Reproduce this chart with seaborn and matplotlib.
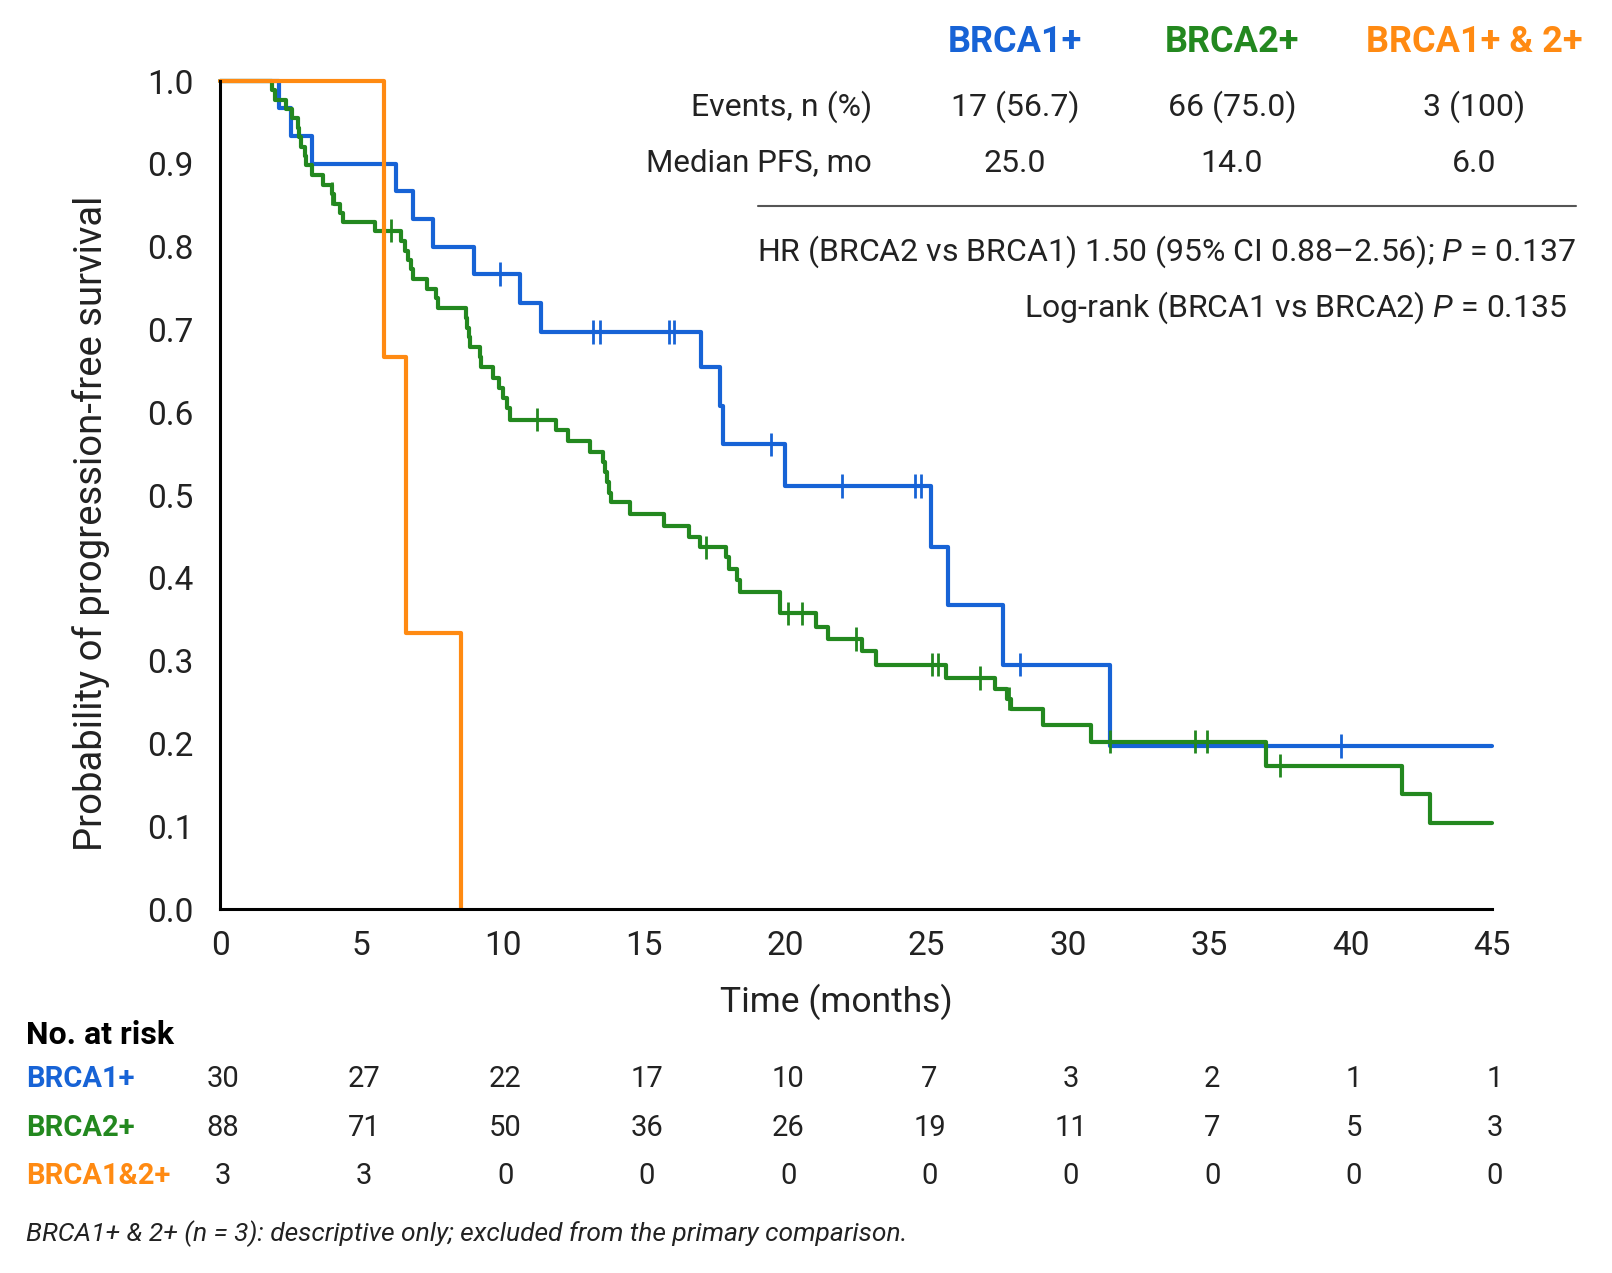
import numpy as np
import pandas as pd
import matplotlib
matplotlib.use("Agg")
import matplotlib.pyplot as plt
import matplotlib.transforms as mtransforms
from matplotlib import font_manager
import seaborn as sns

# ---------------- data ----------------
blue_t = [0, 2.1, 2.5, 3.26, 6.23, 6.83, 7.55, 9.0, 10.6, 11.37, 17.0, 17.7, 17.8,
          20.0, 25.15, 25.75, 27.7, 31.5, 45.0]
blue_s = [1.0, 0.967, 0.933, 0.900, 0.867, 0.833, 0.800, 0.767, 0.732, 0.697, 0.654,
          0.608, 0.561, 0.511, 0.437, 0.367, 0.295, 0.197, 0.197]
blue_cens = [9.9, 13.2, 13.45, 15.9, 16.05, 19.5, 22.0, 24.6, 24.8, 28.3, 39.65]

green_t = [0, 1.85, 1.95, 2.35, 2.55, 2.75, 2.80, 2.85, 3.00, 3.05, 3.25, 3.65, 3.95,
           4.05, 4.25, 4.35, 5.48, 6.40, 6.55, 6.65, 6.75, 6.84, 7.31, 7.65, 7.72,
           8.70, 8.75, 8.80, 8.85, 9.20, 9.25, 9.67, 9.88, 10.02, 10.14, 10.26, 11.90,
           12.30, 13.10, 13.56, 13.62, 13.68, 13.75, 13.85, 14.50, 15.70, 16.60, 16.98,
           17.90, 18.00, 18.28, 18.39, 19.80, 21.10, 21.50, 22.70, 23.20, 25.70, 27.40,
           27.85, 28.00, 29.10, 30.80, 37.00, 41.80, 42.80, 45.0]
green_s = [1.0, 0.989, 0.977, 0.966, 0.955, 0.943, 0.932, 0.920, 0.909, 0.898, 0.886,
           0.875, 0.864, 0.852, 0.841, 0.830, 0.819, 0.807, 0.795, 0.784, 0.773, 0.761,
           0.749, 0.738, 0.726, 0.714, 0.702, 0.691, 0.679, 0.667, 0.655, 0.641, 0.629,
           0.617, 0.605, 0.591, 0.578, 0.565, 0.552, 0.540, 0.528, 0.516, 0.503, 0.491,
           0.477, 0.463, 0.449, 0.437, 0.425, 0.411, 0.397, 0.383, 0.357, 0.340, 0.326,
           0.312, 0.295, 0.279, 0.266, 0.254, 0.242, 0.222, 0.202, 0.173, 0.139, 0.104,
           0.104]
green_cens = [3.95, 6.04, 11.2, 17.2, 20.1, 20.6, 22.5, 25.2, 25.4, 26.9, 27.9, 31.5,
              34.5, 34.9, 37.5]

orange_t = [0, 5.8, 6.58, 8.52]
orange_s = [1.0, 0.667, 0.333, 0.0]

groups = ["BRCA1+", "BRCA2+", "BRCA1+ & 2+"]
risk_labels = ["BRCA1+", "BRCA2+", "BRCA1&2+"]
risk_times = [0, 5, 10, 15, 20, 25, 30, 35, 40, 45]
risk_brca1 = [30, 27, 22, 17, 10, 7, 3, 2, 1, 1]
risk_brca2 = [88, 71, 50, 36, 26, 19, 11, 7, 5, 3]
risk_both = [3, 3, 0, 0, 0, 0, 0, 0, 0, 0]

events = ["17 (56.7)", "66 (75.0)", "3 (100)"]
medians = ["25.0", "14.0", "6.0"]

colors = {"BRCA1+": "#1763D6", "BRCA2+": "#23881F", "BRCA1+ & 2+": "#FF8A12"}

# ---------------- frames ----------------
curves = pd.concat([
    pd.DataFrame({"time": blue_t, "surv": blue_s, "group": groups[0]}),
    pd.DataFrame({"time": green_t, "surv": green_s, "group": groups[1]}),
    pd.DataFrame({"time": orange_t, "surv": orange_s, "group": groups[2]}),
], ignore_index=True)


def step_value(ts, ss, t):
    i = np.searchsorted(np.asarray(ts), t, side="right") - 1
    return ss[i]


cens = pd.concat([
    pd.DataFrame({"time": blue_cens,
                  "surv": [step_value(blue_t, blue_s, c) for c in blue_cens],
                  "group": groups[0]}),
    pd.DataFrame({"time": green_cens,
                  "surv": [step_value(green_t, green_s, c) for c in green_cens],
                  "group": groups[1]}),
], ignore_index=True)

# ---------------- fonts ----------------
sns.set_theme(style="white")
available = {f.name for f in font_manager.fontManager.ttflist}
family = "DejaVu Sans"
for cand in ["Roboto", "Roboto Condensed", "Lato"]:
    if cand in available:
        family = cand
        break
plt.rcParams["font.family"] = [family, "DejaVu Sans"]
plt.rcParams["mathtext.fontset"] = "custom"
plt.rcParams["mathtext.it"] = f"{family}:italic"
plt.rcParams["mathtext.rm"] = family

# ---------------- figure ----------------
W, H = 1612, 1273
fig = plt.figure(figsize=(W / 100, H / 100), dpi=100)
L, R, T, B = 220, 1492, 81, 909
ax = fig.add_axes([L / W, 1 - B / H, (R - L) / W, (B - T) / H])


def fx(px):
    return px / W


def fy(py):
    return 1 - py / H


TXT = "#222222"

sns.lineplot(data=curves, x="time", y="surv", hue="group", palette=colors,
             hue_order=groups, drawstyle="steps-post", estimator=None, sort=False,
             linewidth=3.0, legend=False, ax=ax, clip_on=False)
sns.scatterplot(data=cens, x="time", y="surv", hue="group", palette=colors,
                hue_order=groups, marker="|", s=280, linewidth=2.0, legend=False,
                ax=ax, clip_on=False, zorder=5)

ax.set_xlim(0, 45)
ax.set_ylim(0, 1)
ax.set_xticks(range(0, 46, 5))
ax.set_yticks(np.round(np.arange(0, 1.01, 0.1), 1))
ax.set_yticklabels([f"{v:.1f}" for v in np.arange(0, 1.01, 0.1)])
ax.set_xlabel("")
ax.set_ylabel("")
for s in ["top", "right"]:
    ax.spines[s].set_visible(False)
for s in ["left", "bottom"]:
    ax.spines[s].set_color("black")
    ax.spines[s].set_linewidth(2.2)
ax.tick_params(axis="both", direction="out", length=8, width=2.2, color="black",
               labelsize=24, labelcolor=TXT)
ax.tick_params(axis="y", pad=11)
ax.tick_params(axis="x", pad=7)

# axis labels
fig.text(fx(836), fy(1002), "Time (months)", ha="center", va="center", fontsize=25.5,
         color=TXT)
fig.text(fx(91), fy(523), "Probability of progression-free survival", ha="center",
         va="center", rotation=90, fontsize=27.5, color=TXT)

# summary table (top right)
col_x = [1015, 1232, 1474]
for g, x in zip(groups, col_x):
    fig.text(fx(x), fy(42), g, ha="center", va="center", fontsize=26,
             fontweight="bold", color=colors[g])
fig.text(fx(872), fy(107), "Events, n (%)", ha="right", va="center", fontsize=23,
         color=TXT)
fig.text(fx(872), fy(163), "Median PFS, mo", ha="right", va="center", fontsize=22.5,
         color=TXT)
for x, e, m in zip(col_x, events, medians):
    fig.text(fx(x), fy(107), e, ha="center", va="center", fontsize=23, color=TXT)
    fig.text(fx(x), fy(163), m, ha="center", va="center", fontsize=23, color=TXT)
fig.add_artist(plt.Line2D([fx(758), fx(1576)], [fy(206), fy(206)],
                          color="#555555", linewidth=1.5))
fig.text(fx(1576), fy(252),
         "HR (BRCA2 vs BRCA1) 1.50 (95% CI 0.88\u20132.56); $P$ = 0.137",
         ha="right", va="center", fontsize=23, color=TXT)
fig.text(fx(1567), fy(308),
         "Log-rank (BRCA1 vs BRCA2) $P$ = 0.135",
         ha="right", va="center", fontsize=23, color=TXT)

# number at risk table
fig.text(fx(26), fy(1035), "No. at risk", ha="left", va="center", fontsize=23,
         fontweight="bold", color="black")
trans = mtransforms.blended_transform_factory(ax.transData, fig.transFigure)
rows = [(risk_labels[0], risk_brca1, colors[groups[0]], 1079),
        (risk_labels[1], risk_brca2, colors[groups[1]], 1128),
        (risk_labels[2], risk_both, colors[groups[2]], 1176)]
for lab, vals, col, py in rows:
    fig.text(fx(26), fy(py), lab, ha="left", va="center", fontsize=21,
             fontweight="bold", color=col)
    for t, v in zip(risk_times, vals):
        ax.text(t + 0.1, fy(py), str(v), transform=trans, ha="center", va="center",
                fontsize=21, color=TXT, clip_on=False)

fig.text(fx(26), fy(1234),
         "BRCA1+ & 2+ (n = 3): descriptive only; excluded from the primary comparison.",
         ha="left", va="center", fontsize=19, style="italic", color=TXT)

fig.savefig("out.png", dpi=100, facecolor="white")
